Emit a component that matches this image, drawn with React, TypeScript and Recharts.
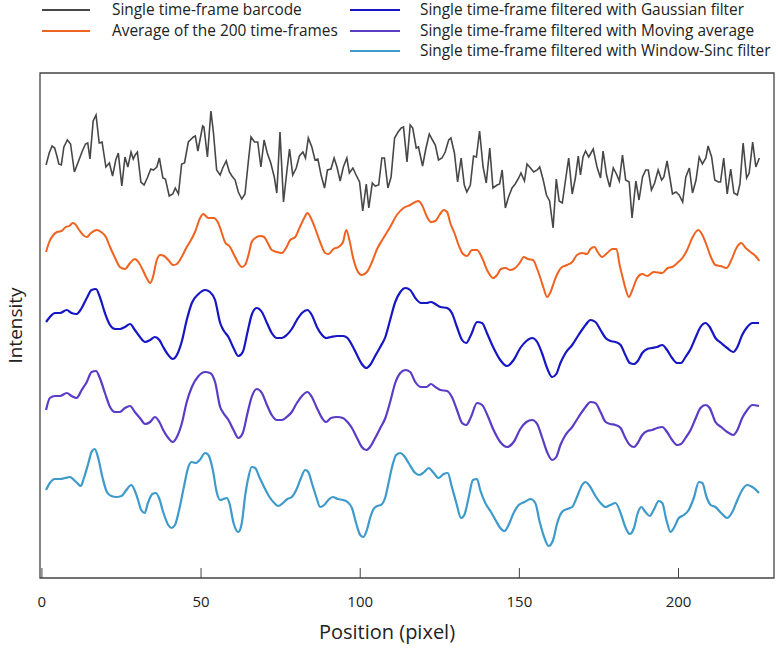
import { LineChart, Line, XAxis, YAxis, ReferenceArea, Legend } from 'recharts'

const FONT = '"Open Sans", "Noto Sans", sans-serif'

const xTicks = [0, 50, 100, 150, 200]
const xDomain: [number, number] = [-0.6, 230]
const yDomain: [number, number] = [0, 505]

// single raw frame (grey)
const barcodePos = [
  1.3, 2.3, 3.2, 4.0, 4.8, 5.3, 6.1, 6.9, 8.0, 9.0,
  10.2, 11.4, 12.7, 13.7, 14.4, 15.1, 16.1, 17.0, 18.0, 18.9,
  20.1, 21.2, 22.2, 23.2, 24.0, 25.1, 26.1, 27.0, 28.0, 28.7,
  29.3, 30.0, 31.1, 32.1, 33.1, 34.2, 35.0, 36.1, 36.9, 38.0,
  38.8, 40.0, 41.1, 41.9, 42.9, 43.9, 44.8, 46.0, 47.6, 48.2,
  49.0, 50.5, 50.9, 52.0, 53.1, 53.9, 54.9, 56.0,
  56.8, 57.9, 58.9, 59.7, 60.7, 61.7, 62.8, 63.8, 64.9, 65.7,
  66.8, 67.8, 68.8, 69.8, 70.8, 71.9, 73.0, 73.8, 74.8, 75.9,
  77.0, 77.8, 78.8, 79.9, 80.9, 82.0, 82.8, 83.7, 84.8, 85.8,
  86.7, 87.7, 88.8, 89.7, 90.8, 91.8, 92.7, 93.7, 94.7, 95.8,
  96.6, 97.7, 98.7, 99.8, 100.8, 101.9, 102.7, 103.8, 104.7, 105.8,
  106.8, 107.6, 108.7, 109.7, 110.8, 111.9, 112.9, 113.6, 114.7,
  115.7, 116.5, 117.6, 118.3, 119.6, 120.6, 121.7, 122.7, 123.6, 124.6,
  125.7, 126.7, 127.8, 128.5, 129.6, 130.6, 131.7, 132.7, 133.5, 134.6,
  135.6, 136.5, 137.5, 138.6, 139.6, 140.7, 141.7, 143.0, 143.8, 144.6,
  145.6, 146.6, 147.7, 148.7, 149.8, 150.5, 151.6, 152.4, 153.5, 154.5,
  155.6, 156.4, 157.5, 158.5, 159.5, 160.6, 161.6, 162.5, 163.5, 164.5,
  165.5, 166.6, 167.6, 168.5, 169.2, 170.0, 170.8, 171.8, 173.2, 174.4,
  175.5,
  176.3, 177.4, 178.4, 179.5, 180.5, 181.4, 182.4, 183.4, 184.5, 185.4,
  186.6, 187.6, 188.7, 189.7, 190.5, 191.5, 192.5, 193.6, 194.7, 195.4,
  196.4, 197.5, 198.1, 199.2, 200.2, 201.3, 202.3, 203.4, 204.4, 205.5,
  206.5, 207.5, 208.6, 209.3, 210.4, 211.4, 212.5, 213.2, 214.2, 215.3,
  216.4, 217.4, 218.5, 219.3, 220.3, 221.4, 222.2, 223.3, 224.3, 225.4,
]
const barcodeVal = [
  413, 425, 432, 430, 421, 414, 413, 431, 438, 434,
  406, 416, 427, 434, 435, 419, 457, 463, 435, 436,
  411, 415, 402, 418, 425, 392, 421, 411, 426, 419,
  423, 426, 396, 393, 400, 409, 408, 411, 420, 400,
  399, 382, 384, 390, 384, 414, 415, 436, 441, 442,
  427, 452, 451, 421, 467, 445, 408, 403,
  410, 417, 406, 402, 398, 386, 379, 384, 418, 441,
  436, 436, 411, 438, 425, 415, 401, 385, 446, 376,
  408, 429, 403, 410, 422, 426, 420, 440, 431, 418,
  419, 403, 390, 408, 409, 420, 411, 397, 411, 420,
  405, 410, 403, 396, 367, 394, 370, 395, 392, 393,
  420, 420, 390, 401, 440, 446, 450, 451, 416,
  453, 450, 430, 431, 412, 429, 444, 438, 433, 418,
  420, 426, 438, 440, 425, 396, 420, 393, 386, 393,
  422, 421, 447, 411, 395, 430, 390, 393, 394, 408,
  370, 381, 390, 394, 400, 405, 397, 414, 410, 406,
  408, 411, 398, 383, 377, 350, 399, 377, 375, 398,
  420, 384, 400, 422, 403, 421, 427, 421, 429, 411,
  400,
  427, 403, 391, 410, 404, 397, 423, 398, 396, 360,
  397, 378, 401, 408, 408, 388, 395, 408, 398, 401,
  417, 396, 384, 386, 383, 376, 401, 410, 385, 398,
  421, 414, 420, 432, 421, 398, 396, 396, 420, 384,
  409, 385, 383, 394, 435, 400, 405, 436, 411, 420,
]

// average of 200 frames (orange)
const averagePos = [
  1.3, 2.3, 3.6, 4.8, 6.2, 7.5, 8.6, 9.7, 10.4, 11.7,
  13.3, 14.1, 15.4, 17.2, 18.6, 20.1, 21.4, 23.0, 24.5, 26.1,
  27.7, 29.2, 30.3, 31.7, 32.9, 34.0, 34.8, 36.1, 37.1, 38.4,
  39.7, 41.3, 42.4, 43.9, 45.5, 46.5, 48.1, 49.7, 50.7, 52.3,
  53.9, 55.4, 56.0, 57.5, 59.1, 60.4, 61.7, 62.8, 63.8, 64.9,
  65.9, 67.0, 68.6, 69.8, 70.8, 72.2, 73.8, 75.4, 76.7, 78.0,
  79.6, 80.9, 82.4, 83.4, 84.5, 85.8, 87.4, 89.0, 90.0, 91.6,
  93.2, 94.6, 95.6, 96.6, 97.7, 99.0, 100.5, 102.1, 103.7, 105.3,
  107.3, 109.4, 111.5, 113.6, 115.7, 117.3, 118.3, 119.4, 121.0, 122.2,
  123.6, 124.9, 126.2, 127.3, 128.3, 129.6, 130.9, 132.3, 133.6, 135.1,
  136.7, 138.3, 140.0, 141.7, 143.0, 144.2, 145.6, 147.2, 148.7, 150.1,
  151.4, 152.7, 154.3, 155.6, 156.6, 157.6, 158.7, 159.8, 160.9, 161.9,
  163.4, 165.0, 166.6, 168.1, 169.7, 171.3, 172.3, 173.6, 174.6, 176.0,
  177.6, 179.2, 180.5, 181.5, 182.5, 183.3, 184.4, 185.5, 187.0, 188.6,
  190.2, 192.2, 194.9, 196.6, 198.0, 199.6, 201.2, 202.7, 204.3, 206.2,
  207.5, 208.8, 210.3, 211.6, 213.2, 215.1, 216.6, 218.2, 219.7, 221.1,
  222.6, 224.2, 225.4,
]
const averageVal = [
  326, 336, 343, 346, 347, 351, 352, 355, 354, 348,
  342, 341, 345, 348, 346, 341, 331, 320, 311, 309,
  315, 319, 316, 308, 300, 295, 300, 318, 323, 322,
  318, 313, 314, 321, 331, 336, 346, 360, 364, 360,
  360, 355, 350, 336, 331, 323, 315, 311, 313, 323,
  336, 340, 342, 341, 336, 328, 326, 325, 330, 338,
  341, 350, 360, 365, 360, 350, 336, 325, 324, 329,
  331, 336, 348, 338, 321, 308, 303, 306, 316, 329,
  340, 351, 363, 370, 373, 376, 377, 373, 361, 356,
  357, 363, 368, 366, 355, 345, 333, 324, 322, 328,
  328, 320, 307, 300, 303, 309, 310, 308, 310, 315,
  321, 319, 318, 309, 300, 290, 281, 286, 296, 304,
  311, 313, 316, 323, 325, 324, 329, 331, 326, 321,
  325, 329, 329, 313, 300, 290, 281, 288, 300, 304,
  302, 306, 305, 310, 311, 315, 320, 328, 340, 348,
  343, 333, 320, 313, 312, 310, 318, 330, 335, 330,
  326, 322, 317,
]

// Gaussian and moving-average traces share their sample positions
const filteredPos = [
  1.3, 2.5, 4.1, 5.7, 7.8, 9.3, 10.9, 12.5, 14.1, 15.6,
  17.0, 18.2, 19.8, 21.4, 23.0, 24.5, 26.1, 27.7, 29.2, 30.8,
  32.4, 34.0, 35.5, 36.9, 38.1, 39.7, 41.1, 42.4, 43.9, 45.5,
  47.1, 49.2, 51.3, 52.8, 54.4, 56.0,
  57.0, 58.6, 60.2, 61.7, 63.1, 64.6, 65.9, 67.5, 69.1, 70.7,
  72.2, 73.8, 75.4, 76.9, 78.5, 80.1, 81.7, 83.4, 84.8, 86.4,
  88.0, 89.3, 90.8, 92.7, 94.6, 96.0, 97.4, 99.0, 100.5, 101.9,
  103.1, 104.7, 106.3, 107.9, 109.4, 111.0, 112.6, 114.2, 115.7,
  117.3, 119.1, 120.8, 122.2, 123.6, 125.2, 127.3, 128.8, 130.4, 132.0,
  133.3, 134.8, 136.7, 138.3, 139.8, 141.9, 144.0, 146.1, 148.2, 150.3,
  152.2, 154.0, 155.6, 157.1, 158.7, 160.3, 161.6, 162.9, 164.5, 166.6,
  168.6, 170.8, 172.3, 173.9, 175.5,
  177.1, 178.6, 180.2, 181.8, 183.3, 184.7, 186.0, 187.2, 188.6, 190.2,
  191.7, 193.3, 194.9, 196.4, 198.0, 199.6, 200.8, 202.2, 203.8, 205.3,
  206.9, 208.5, 209.8, 211.6, 213.4, 215.3, 217.2, 218.5, 220.0, 221.6,
  223.2, 225.3,
]
const gaussianVal = [
  256, 261, 265, 265, 268, 265, 264, 270, 280, 288,
  289, 281, 265, 253, 249, 249, 251, 254, 248, 241,
  236, 238, 241, 238, 231, 223, 219, 223, 236, 258,
  275, 284, 288, 286, 278, 255,
  248, 241, 230, 222, 226, 246, 263, 270, 266, 255,
  245, 240, 240, 243, 249, 258, 265, 268, 263, 251,
  243, 240, 241, 242, 242, 240, 233, 223, 214, 210,
  213, 222, 231, 241, 258, 276, 286, 290, 288,
  280, 275, 275, 276, 274, 271, 270, 265, 251, 238,
  235, 243, 256, 255, 245, 230, 218, 212, 218, 230,
  237, 240, 236, 225, 210, 201, 204, 215, 225, 233,
  243, 253, 258, 256, 248,
  240, 237, 236, 233, 223, 215, 214, 217, 225, 229,
  230, 231, 233, 228, 220, 215, 215, 221, 229, 240,
  251, 255, 251, 240, 235, 230, 226, 231, 243, 251,
  255, 255,
]
const movingVal = [
  168, 180, 182, 182, 185, 182, 180, 188, 196, 206,
  207, 200, 185, 171, 166, 166, 170, 172, 166, 160,
  154, 156, 161, 156, 148, 140, 136, 141, 154, 176,
  191, 202, 206, 205, 196, 171,
  165, 158, 148, 140, 145, 165, 181, 189, 185, 173,
  163, 158, 158, 161, 166, 175, 182, 186, 181, 170,
  160, 156, 160, 161, 160, 156, 150, 140, 131, 128,
  131, 140, 150, 160, 176, 195, 205, 208, 206,
  196, 191, 191, 194, 191, 188, 187, 181, 168, 155,
  153, 161, 175, 173, 164, 148, 136, 131, 136, 149,
  156, 158, 154, 141, 126, 118, 121, 133, 143, 151,
  161, 171, 176, 175, 166,
  156, 154, 153, 150, 140, 133, 131, 135, 143, 147,
  148, 150, 151, 146, 138, 133, 134, 140, 148, 159,
  170, 173, 170, 156, 151, 146, 143, 148, 160, 168,
  173, 172,
]

// window-sinc trace (light blue)
const sincPos = [
  1.3, 2.5, 4.1, 5.7, 7.3, 8.8, 10.1, 11.1, 12.2, 13.2,
  14.6, 15.6, 16.6, 17.6, 19.0, 20.4, 21.8, 23.4, 25.0, 26.3,
  28.1, 29.1, 30.2, 31.2, 32.3, 33.3, 34.7, 35.8, 36.8, 38.1,
  39.7, 40.7, 41.8, 43.1, 44.6, 46.0, 47.0, 48.4, 49.6, 51.3,
  52.3, 53.7, 54.9, 56.0,
  57.0, 58.1, 58.9, 60.2, 61.7, 62.8, 63.8, 64.9, 65.9, 67.0,
  68.3, 69.8, 71.5, 73.0, 74.3, 75.7, 77.1, 78.5, 79.9, 81.4,
  82.7, 83.7, 84.8, 86.2, 87.4, 88.7, 90.0, 91.4, 92.9, 94.6,
  96.0, 97.4, 98.7, 100.0, 101.0, 102.1, 103.1, 104.2, 105.3, 106.5,
  107.9, 108.9, 110.0, 111.3, 112.6, 113.8, 115.2,
  117.3, 118.6, 120.1, 121.5, 123.1, 124.6, 126.2, 127.5, 128.8, 130.2,
  131.7, 132.7, 134.1, 135.4, 136.7, 137.7, 139.3, 140.9, 142.5, 144.0,
  145.3, 146.6, 148.2, 149.8, 151.6, 153.5, 155.0, 156.4, 157.9, 159.2,
  160.6, 161.9, 163.4, 165.0, 166.6, 168.1, 169.7, 170.8, 172.1, 173.9,
  175.5,
  177.1, 178.6, 180.2, 181.8, 183.3, 184.7, 186.0, 187.2, 188.3, 189.6,
  191.0, 192.2, 193.8, 194.9, 196.2, 197.5, 198.7, 200.1, 201.7, 203.2,
  204.8, 206.4, 207.5, 208.8, 210.1, 211.6, 213.4, 215.3, 216.9, 218.5,
  220.0, 221.6, 223.2, 225.3,
]
const sincVal = [
  88, 95, 99, 99, 100, 101, 98, 95, 92, 100,
  115, 126, 129, 121, 101, 86, 82, 81, 82, 87,
  93, 88, 78, 68, 65, 75, 84, 85, 80, 66,
  53, 50, 53, 68, 91, 111, 116, 115, 118, 125,
  123, 108, 86, 78,
  79, 80, 75, 55, 46, 55, 81, 101, 111, 110,
  101, 91, 81, 75, 72, 75, 79, 81, 88, 100,
  108, 106, 95, 81, 71, 73, 78, 81, 79, 78,
  76, 70, 55, 43, 41, 48, 60, 69, 72, 73,
  81, 95, 111, 123, 125, 122, 115,
  105, 103, 106, 110, 105, 100, 104, 105, 91, 75,
  60, 63, 81, 98, 99, 88, 75, 67, 58, 50,
  47, 53, 65, 73, 76, 79, 75, 56, 40, 32,
  38, 55, 66, 69, 71, 81, 93, 96, 92, 82,
  75,
  71, 73, 75, 65, 51, 44, 50, 65, 71, 66,
  62, 68, 77, 75, 58, 46, 51, 60, 63, 68,
  80, 96, 95, 81, 73, 71, 65, 60, 66, 78,
  88, 93, 91, 85,
]

const toPoints = (pos: number[], val: number[]) => pos.map((x, i) => ({ x, y: val[i] }))

const series = [
  { name: 'Single time-frame barcode', color: '#474747', width: 1.6, curve: 'linear', data: toPoints(barcodePos, barcodeVal) },
  { name: 'Average of the 200 time-frames', color: '#f0621f', width: 2, curve: 'monotone', data: toPoints(averagePos, averageVal) },
  { name: 'Single time-frame filtered with Gaussian filter', color: '#1616c4', width: 2.2, curve: 'monotone', data: toPoints(filteredPos, gaussianVal) },
  { name: 'Single time-frame filtered with Moving average', color: '#5a3cc6', width: 2.2, curve: 'monotone', data: toPoints(filteredPos, movingVal) },
  { name: 'Single time-frame filtered with Window-Sinc filter', color: '#3d9acb', width: 2.2, curve: 'monotone', data: toPoints(sincPos, sincVal) },
]

function LegendBlock() {
  return (
    <div style={{ position: 'relative', width: 778, height: 64, fontFamily: FONT, fontSize: 15.4, color: '#222' }}>
      {series.map((s, i) => {
        const right = i >= 2
        const row = right ? i - 2 : i
        return (
          <div key={s.name} style={{ position: 'absolute', top: 1 + row * 20.5, left: 0, width: 778, height: 18 }}>
            <div style={{ position: 'absolute', left: right ? 350 : 42, top: 8, width: right ? 50 : 48, height: 2, background: s.color }} />
            <span style={{ position: 'absolute', left: right ? 420 : 112, top: 0, lineHeight: '18px', whiteSpace: 'nowrap' }}>{s.name}</span>
          </div>
        )
      })}
    </div>
  )
}

export default function App() {
  return (
    <div style={{ position: 'absolute', left: 0, top: 0, background: '#fff' }}>
      <LineChart width={778} height={654} margin={{ top: 73, right: 4, bottom: 0, left: 0 }}>
        <XAxis
          type="number"
          dataKey="x"
          domain={xDomain}
          ticks={xTicks}
          allowDataOverflow
          height={76}
          axisLine={false}
          tickSize={-10}
          tickMargin={28}
          tickLine={{ stroke: '#444' }}
          tick={{ fill: '#222', fontSize: 15, fontFamily: FONT }}
          label={{ value: 'Position (pixel)', position: 'insideBottom', offset: 15, dx: -20, fill: '#222', fontSize: 20, fontFamily: FONT }}
        />
        <YAxis
          type="number"
          domain={yDomain}
          allowDataOverflow
          width={40}
          tick={false}
          tickLine={false}
          axisLine={false}
          label={{ value: 'Intensity', angle: -90, position: 'center', dx: -5, fill: '#222', fontSize: 19, fontFamily: FONT }}
        />
        <ReferenceArea x1={xDomain[0]} x2={xDomain[1]} y1={yDomain[0]} y2={yDomain[1]} fill="none" stroke="#444" strokeWidth={1.3} fillOpacity={0} />
        {series.map((s) => (
          <Line
            key={s.name}
            name={s.name}
            data={s.data}
            dataKey="y"
            type={s.curve as 'linear' | 'monotone'}
            stroke={s.color}
            strokeWidth={s.width}
            dot={false}
            activeDot={false}
            isAnimationActive={false}
          />
        ))}
        <Legend content={<LegendBlock />} layout="horizontal" verticalAlign="middle" align="center" wrapperStyle={{ top: 0, left: 0, width: 778 }} />
      </LineChart>
    </div>
  )
}
